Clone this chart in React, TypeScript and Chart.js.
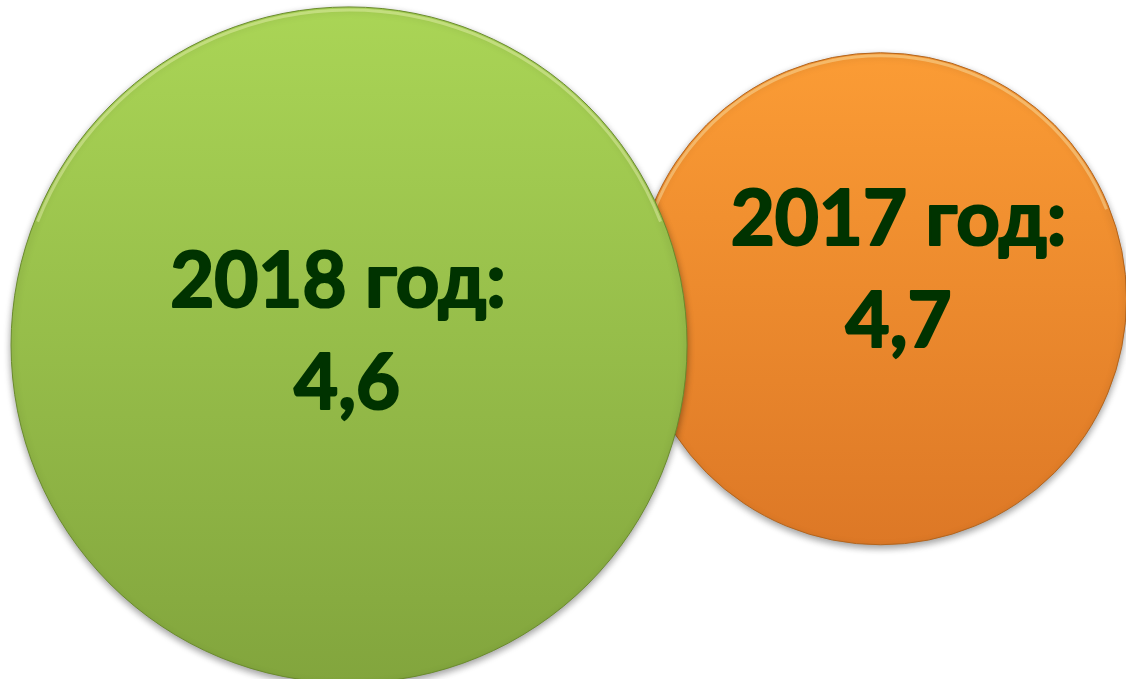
import React, { useEffect, useRef } from "react";
import { Chart, registerables } from "chart.js";

Chart.register(...registerables);

// Data
const years = ["2018 год", "2017 год"];
const values = [4.6, 4.7];
// Bubble placement in abstract axis units (0..100) and bubble radii
const bubbleX = [31.0, 78.2];
const bubbleY = [49.2, 56.0];
const bubbleR = [338, 246];

// Styles
const topColors = ["#aad556", "#fb9c35"];
const bottomColors = ["#82a53d", "#dd7826"];
const borderColors = ["#6a8b2d", "#b3641c"];
const line1Dx = [-11, 18];
const line2Dx = [-2, 18];
const textDy = [-38, -54];
const lineGap = 102;

const shadowPlugin = {
  id: "bubbleShadow",
  beforeDatasetDraw(chart: any) {
    const ctx = chart.ctx;
    ctx.save();
    ctx.shadowColor = "rgba(0,0,0,0.38)";
    ctx.shadowBlur = 7;
    ctx.shadowOffsetX = 0;
    ctx.shadowOffsetY = 3;
  },
  afterDatasetDraw(chart: any, args: any) {
    const ctx = chart.ctx;
    ctx.restore();
    // subtle light rim at the top of each bubble (bevel look)
    const el = chart.getDatasetMeta(args.index).data[0];
    if (!el) return;
    const r = bubbleR[args.index];
    ctx.save();
    ctx.beginPath();
    ctx.arc(el.x, el.y, r - 3, Math.PI * 1.12, Math.PI * 1.88);
    ctx.strokeStyle = "rgba(255,255,210,0.35)";
    ctx.lineWidth = 3;
    ctx.stroke();
    ctx.restore();
  },
};

const labelPlugin = {
  id: "bubbleLabels",
  afterDatasetsDraw(chart: any) {
    const ctx = chart.ctx;
    ctx.save();
    ctx.font = "bold 76px Lato";
    ctx.fillStyle = "#003300";
    ctx.strokeStyle = "#003300";
    ctx.lineWidth = 2.2;
    ctx.lineJoin = "round";
    ctx.textAlign = "center";
    ctx.textBaseline = "alphabetic";
    chart.data.datasets.forEach((ds: any, i: number) => {
      const el = chart.getDatasetMeta(i).data[0];
      if (!el) return;
      const y = el.y + textDy[i];
      const t1 = years[i] + ":";
      const t2 = String(values[i]).replace(".", ",");
      ctx.fillText(t1, el.x + line1Dx[i], y);
      ctx.strokeText(t1, el.x + line1Dx[i], y);
      ctx.fillText(t2, el.x + line2Dx[i], y + lineGap);
      ctx.strokeText(t2, el.x + line2Dx[i], y + lineGap);
    });
    ctx.restore();
  },
};

export default function App() {
  const ref = useRef<HTMLCanvasElement | null>(null);

  useEffect(() => {
    if (!ref.current) return;
    const gradient = (i: number) => (c: any) => {
      const chart = c.chart;
      if (!chart.chartArea || !chart.scales.y) return topColors[i];
      const cy = chart.scales.y.getPixelForValue(bubbleY[i]);
      const r = bubbleR[i];
      const g = chart.ctx.createLinearGradient(0, cy - r, 0, cy + r);
      g.addColorStop(0, topColors[i]);
      g.addColorStop(1, bottomColors[i]);
      return g;
    };
    const chart = new Chart(ref.current, {
      type: "bubble",
      data: {
        datasets: years.map((y, i) => ({
          label: y,
          data: [{ x: bubbleX[i], y: bubbleY[i], r: bubbleR[i] }],
          backgroundColor: gradient(i),
          borderColor: borderColors[i],
          borderWidth: 1,
          hoverBorderWidth: 1,
          clip: false as any,
        })),
      },
      options: {
        animation: false,
        responsive: true,
        maintainAspectRatio: false,
        layout: { padding: 0, autoPadding: false } as any,
        scales: {
          x: { type: "linear", min: 0, max: 100, display: false },
          y: { type: "linear", min: 0, max: 100, display: false },
        },
        plugins: {
          legend: { display: false },
          tooltip: { enabled: false },
        },
        events: [],
      },
      plugins: [shadowPlugin, labelPlugin],
    });
    return () => chart.destroy();
  }, []);

  return (
    <div
      style={{
        position: "fixed",
        left: 0,
        top: 0,
        width: 1126,
        height: 679,
        background: "#ffffff",
      }}
    >
      <canvas ref={ref} />
    </div>
  );
}
